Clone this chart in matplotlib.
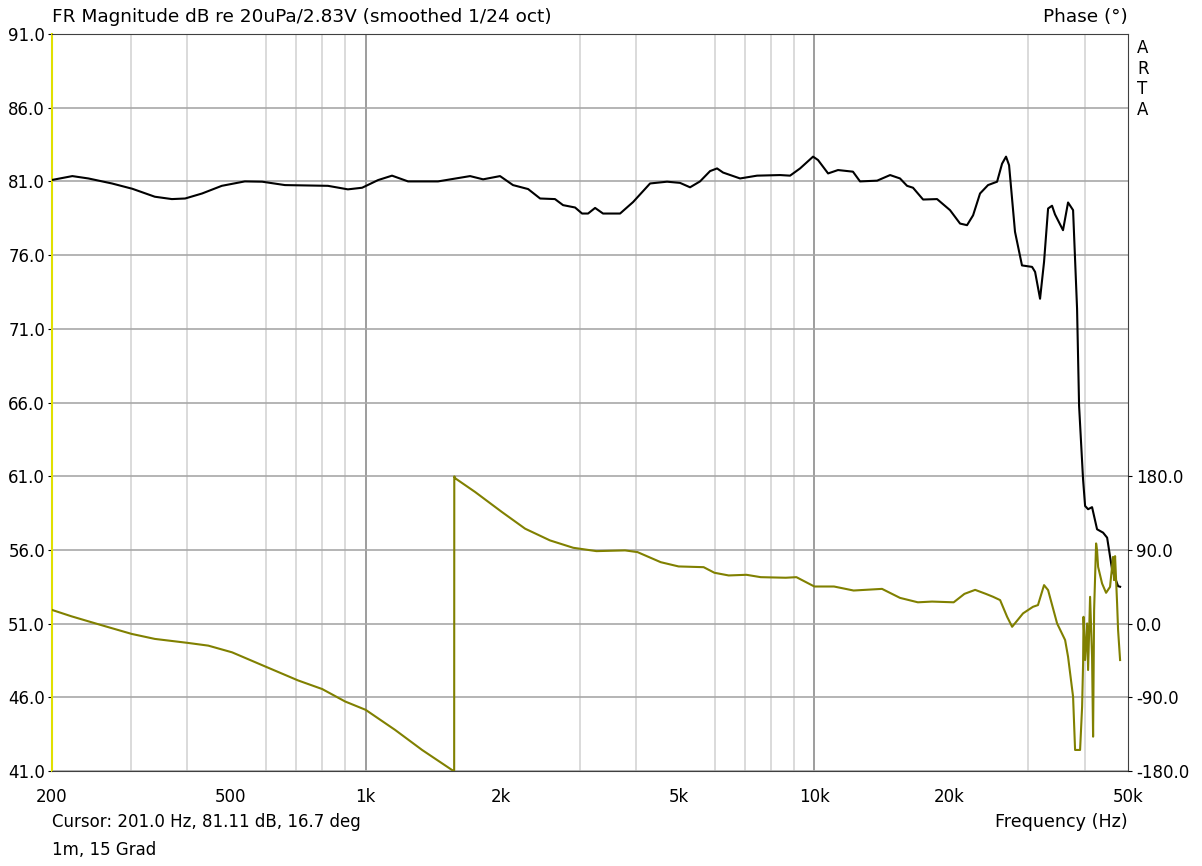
import numpy as np
import matplotlib.pyplot as plt
from matplotlib.ticker import FixedLocator, NullFormatter

# magnitude response (Hz, dB)
mag_freq = [201, 222, 241, 272, 302, 339, 370, 396, 432, 478, 538, 588, 661, 824, 913, 982,
            1066, 1145, 1243, 1450, 1709, 1827, 1993, 2130, 2302, 2448, 2642, 2754, 2929, 3036,
            3131, 3246, 3381, 3690, 3945, 4304, 4696, 5019, 5284, 5562, 5856, 6070, 6260, 6830,
            7452, 8388, 8828, 9293, 9934, 10190, 10730, 11290, 12190, 12640, 13800, 14750,
            15520, 16090, 16590, 17470, 18770, 20060, 21120, 21890, 22580, 23400, 24380, 25540,
            26200, 26740, 27160, 28000, 29020, 30560, 31040, 31840, 32500, 33180, 33860, 34380,
            35820, 36760, 37720, 38500, 38900, 39700, 40120, 40740, 41580, 42660, 44000, 44920,
            46080, 47520, 48020]
mag_db = [81.11, 81.36, 81.2, 80.86, 80.5, 79.96, 79.8, 79.84, 80.18, 80.7, 81.0, 80.98, 80.75,
          80.7, 80.46, 80.57, 81.09, 81.39, 81.0, 81.0, 81.36, 81.14, 81.36, 80.75, 80.48, 79.84,
          79.8, 79.39, 79.23, 78.82, 78.82, 79.2, 78.82, 78.82, 79.6, 80.86, 80.98, 80.9, 80.6,
          81.0, 81.7, 81.88, 81.6, 81.2, 81.39, 81.43, 81.39, 81.88, 82.68, 82.45, 81.54, 81.77,
          81.66, 81.0, 81.05, 81.43, 81.2, 80.7, 80.57, 79.77, 79.8, 79.05, 78.14, 78.03, 78.7,
          80.18, 80.75, 80.98, 82.2, 82.68, 82.1, 77.58, 75.3, 75.2, 74.86, 73.04, 75.54, 79.16,
          79.35, 78.76, 77.69, 79.57, 79.05, 72.36, 65.78, 60.8, 58.98, 58.76, 58.9, 57.4, 57.17,
          56.83, 54.67, 53.54, 53.5]

# phase response (Hz, degrees)
ph_freq = [200, 221, 241, 263, 301, 339, 402, 446, 504, 597, 707, 800, 900, 1000, 1163, 1336,
           1558, 1575, 1576, 1586, 1753, 2012, 2267, 2575, 2901, 3269, 3785, 4035, 4546, 4982,
           5666, 5987, 6442, 7057, 7594, 8633, 9121, 10000, 11060, 12230, 14150, 15520, 17010,
           18290, 20440, 21600, 22820, 24110, 25030, 25940, 26890, 27590, 29180, 30700, 31500,
           32500, 33180, 34750, 36210, 36760, 37720, 38110, 39100, 39510, 39710, 39800, 40120,
           40540, 40740, 41160, 41580, 41800, 42020, 42450, 42660, 42890, 43770, 44680, 45600,
           46310, 46550, 46790, 47280, 47520, 48010]
ph_deg = [16.7, 8.9, 2.8, -3.3, -12.6, -18.7, -23.6, -26.9, -35.1, -52.3, -69.4, -79.9, -95.1,
          -105.3, -129.8, -154.3, -178.8, -179.8, 179.8, 177.2, 160.8, 136.3, 115.9, 101.6, 92.6,
          88.5, 89.4, 87.3, 75.0, 69.8, 68.9, 62.1, 58.8, 59.6, 56.7, 56.0, 56.7, 45.3, 45.3,
          40.4, 42.4, 31.4, 26.0, 26.9, 26.0, 36.3, 41.2, 36.3, 32.7, 28.7, 8.3, -3.9, 12.5,
          20.5, 22.6, 47.0, 40.9, 0.2, -20.1, -40.5, -89.3, -154.3, -154.3, -101.4, -48.5, 8.3,
          -44.5, 0.2, -56.7, 32.7, -40.5, -138.1, 16.5, 97.9, 89.7, 69.3, 49.0, 37.6, 44.9,
          81.5, 53.1, 82.4, 24.7, -7.9, -44.5]

x_ticks = [200, 500, 1000, 2000, 5000, 10000, 20000, 50000]
x_labels = ['200', '500', '1k', '2k', '5k', '10k', '20k', '50k']
db_ticks = np.arange(41, 92, 5)
ph_ticks = [-180, -90, 0, 90, 180]

plt.rcParams['font.family'] = 'DejaVu Sans'
plt.rcParams['font.size'] = 12

fig = plt.figure(figsize=(12.02, 8.66), dpi=100)
ax = fig.add_axes([52/1202, 1-771/866, (1128-52)/1202, (771-34)/866])

ax.set_xscale('log')
ax.set_xlim(200, 50000)
ax.set_ylim(41, 91)

ax.xaxis.set_major_locator(FixedLocator(x_ticks))
ax.set_xticklabels(x_labels)
minor = [m * 10**e for e in (2, 3, 4) for m in range(1, 10) if 200 < m * 10**e < 50000]
ax.xaxis.set_minor_locator(FixedLocator(minor))
ax.xaxis.set_minor_formatter(NullFormatter())
ax.tick_params(axis='x', which='both', length=0, pad=12)
ax.grid(True, which='minor', axis='x', color='#d4d4d4', lw=1.2)
for dec in (1000, 10000):
    ax.axvline(dec, color='#8c8c8c', lw=1.2, zorder=0.5)

ax.set_yticks(db_ticks)
ax.set_yticklabels(['%.1f' % v for v in db_ticks])
ax.tick_params(axis='y', length=3, pad=2)
ax.grid(True, which='major', axis='y', color='#a8a8a8', lw=1.2)
ax.set_axisbelow(True)

for s in ('top', 'right', 'bottom'):
    ax.spines[s].set_color('#404040')
ax.spines['left'].set_color('#e0e000')
ax.spines['left'].set_linewidth(1.5)

ax.plot(mag_freq, mag_db, color='black', lw=1.5, zorder=3)

ax2 = ax.twinx()
ax2.set_ylim(-180, 720)
ax2.set_yticks(ph_ticks)
ax2.set_yticklabels(['%.1f' % v for v in ph_ticks])
ax2.tick_params(axis='y', length=3, pad=3)
ax2.plot(ph_freq, ph_deg, color='#808000', lw=1.5)
for s in ax2.spines.values():
    s.set_visible(False)

fig.text(52/1202, 1-17/866, 'FR Magnitude dB re 20uPa/2.83V (smoothed 1/24 oct)',
         ha='left', va='center', fontsize=13.3)
fig.text(1128/1202, 1-17/866, 'Phase (°)', ha='right', va='center', fontsize=13.3)
fig.text(1137/1202, 1-79/866, 'A\nR\nT\nA', ha='left', va='center', linespacing=1.2)
fig.text(52/1202, 1-822/866, 'Cursor: 201.0 Hz, 81.11 dB, 16.7 deg', ha='left', va='center')
fig.text(1128/1202, 1-822/866, 'Frequency (Hz)', ha='right', va='center', fontsize=12.6)
fig.text(52/1202, 1-850/866, '1m, 15 Grad', ha='left', va='center')

fig.savefig('out.png', dpi=100)
